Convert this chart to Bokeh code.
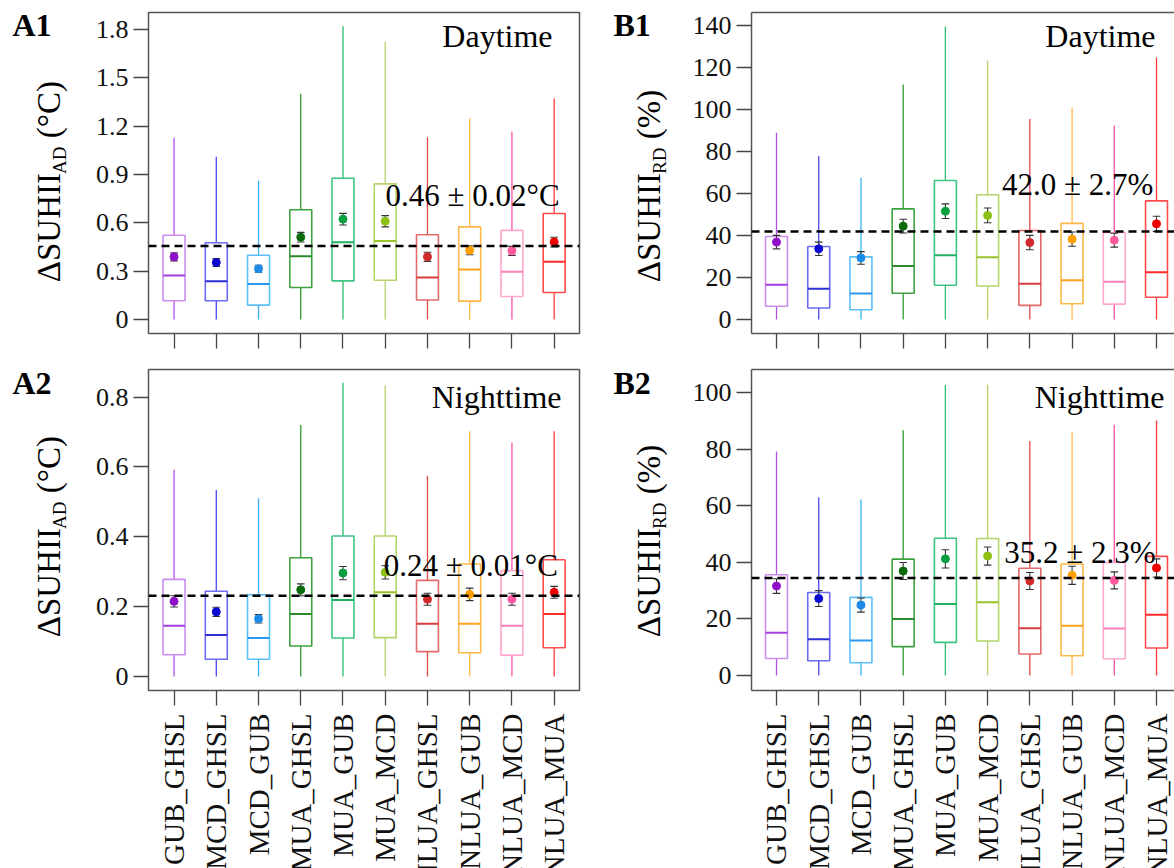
import math
import numpy as np
from bokeh.plotting import figure
from bokeh.models import (Range1d, FixedTicker, Span, Label, LabelSet,
                          ColumnDataSource, LinearAxis)
from bokeh.layouts import row, column
from bokeh.core.properties import value
from bokeh.embed import file_html
from bokeh.resources import INLINE

# ---------------- data ----------------
categories = ["GUB_GHSL", "MCD_GHSL", "MCD_GUB", "MUA_GHSL", "MUA_GUB",
              "MUA_MCD", "NLUA_GHSL", "NLUA_GUB", "NLUA_MCD", "NLUA_MUA"]

# A1: daytime absolute difference (°C)
a1_low = [0, 0, 0, 0, 0, 0, 0, 0, 0, 0]
a1_q1 = [0.116, 0.116, 0.089, 0.199, 0.240, 0.244, 0.121, 0.114, 0.143, 0.168]
a1_med = [0.273, 0.238, 0.221, 0.393, 0.480, 0.487, 0.261, 0.310, 0.296, 0.358]
a1_q3 = [0.523, 0.476, 0.399, 0.681, 0.877, 0.842, 0.526, 0.575, 0.553, 0.658]
a1_high = [1.128, 1.010, 0.861, 1.401, 1.821, 1.726, 1.131, 1.250, 1.167, 1.372]
a1_mean = [0.389, 0.354, 0.315, 0.511, 0.623, 0.610, 0.389, 0.430, 0.426, 0.481]
a1_err = [0.025, 0.025, 0.022, 0.030, 0.036, 0.035, 0.028, 0.028, 0.028, 0.030]

# A2: nighttime absolute difference (°C)
a2_low = [0, 0, 0, 0, 0, 0, 0, 0, 0, 0]
a2_q1 = [0.062, 0.049, 0.049, 0.087, 0.110, 0.111, 0.071, 0.068, 0.061, 0.082]
a2_med = [0.145, 0.119, 0.110, 0.179, 0.219, 0.241, 0.151, 0.151, 0.145, 0.179]
a2_q3 = [0.278, 0.244, 0.234, 0.340, 0.402, 0.402, 0.275, 0.322, 0.303, 0.334]
a2_high = [0.592, 0.534, 0.510, 0.720, 0.841, 0.834, 0.575, 0.702, 0.669, 0.702]
a2_mean = [0.215, 0.185, 0.165, 0.248, 0.296, 0.298, 0.221, 0.235, 0.221, 0.241]
a2_err = [0.016, 0.013, 0.012, 0.017, 0.019, 0.019, 0.017, 0.018, 0.017, 0.017]

# B1: daytime relative difference (%)
b1_low = [0, 0, 0, 0, 0, 0, 0, 0, 0, 0]
b1_q1 = [6.3, 5.5, 4.6, 12.5, 16.3, 15.9, 6.7, 7.5, 7.3, 10.6]
b1_med = [16.5, 14.6, 12.4, 25.4, 30.6, 29.6, 17.0, 18.7, 17.9, 22.5]
b1_q3 = [39.5, 34.7, 29.8, 52.6, 66.1, 59.3, 42.3, 45.7, 41.4, 56.4]
b1_high = [88.8, 77.7, 67.4, 111.8, 139.4, 123.2, 95.3, 100.8, 92.3, 124.6]
b1_mean = [36.8, 33.6, 29.3, 44.4, 51.5, 49.5, 36.6, 38.2, 37.7, 45.5]
b1_err = [3.2, 3.2, 3.0, 3.3, 3.5, 3.5, 3.4, 3.4, 3.3, 3.6]

# B2: nighttime relative difference (%)
b2_low = [0, 0, 0, 0, 0, 0, 0, 0, 0, 0]
b2_q1 = [6.0, 5.2, 4.5, 10.2, 11.7, 12.2, 7.6, 7.0, 5.9, 9.7]
b2_med = [15.1, 12.8, 12.4, 20.0, 25.3, 25.9, 16.7, 17.6, 16.6, 21.5]
b2_q3 = [35.6, 29.3, 27.6, 41.1, 48.5, 48.4, 37.9, 39.4, 39.9, 42.1]
b2_high = [79.1, 63.0, 62.2, 86.6, 102.6, 102.7, 82.8, 86.0, 88.6, 90.1]
b2_mean = [31.6, 27.2, 24.9, 36.9, 41.2, 42.2, 33.4, 35.4, 33.6, 38.0]
b2_err = [2.6, 2.8, 2.5, 3.0, 3.2, 3.2, 3.0, 3.2, 3.0, 3.2]

overall_mean = {"A1": 0.457, "A2": 0.231, "B1": 41.9, "B2": 34.4}
overall_text = {"A1": "0.46 \u00b1 0.02\u00b0C", "A2": "0.24 \u00b1 0.01\u00b0C",
                "B1": "42.0 \u00b1 2.7%", "B2": "35.2 \u00b1 2.3%"}

a1_yticks = [0, 0.3, 0.6, 0.9, 1.2, 1.5, 1.8]
a1_ylabels = ["0", "0.3", "0.6", "0.9", "1.2", "1.5", "1.8"]
a2_yticks = [0, 0.2, 0.4, 0.6, 0.8]
a2_ylabels = ["0", "0.2", "0.4", "0.6", "0.8"]
b1_yticks = [0, 20, 40, 60, 80, 100, 120, 140]
b1_ylabels = ["0", "20", "40", "60", "80", "100", "120", "140"]
b2_yticks = [0, 20, 40, 60, 80, 100]
b2_ylabels = ["0", "20", "40", "60", "80", "100"]

# ---------------- styles ----------------
whisker_colors = ["#b350e8", "#4848ee", "#3ab2f6", "#2f9a2f", "#2dbd6e",
                  "#b4d26a", "#e04848", "#ffbc4a", "#ff50a8", "#ff3a3a"]
box_colors = ["#c98ef0", "#6b6bf2", "#5cc0f8", "#3fa03f", "#3cc483",
              "#b5d46a", "#e46a6a", "#ffb84a", "#ffa6cf", "#ff4d4d"]
median_colors = ["#a43ee0", "#2f2fd8", "#2a98f0", "#2a8a2a", "#22b062",
                 "#98c42a", "#d83c3c", "#ffa21c", "#ff7fb8", "#ff2a2a"]
dot_colors = ["#9010c8", "#0a0ad0", "#1c8ae8", "#0a6a0a", "#0aa040",
              "#8cc014", "#d02a2a", "#ffa000", "#ff5aa0", "#ee0000"]

SERIF = "Liberation Serif"
FRAME_COLOR = "#555555"
BOX_W = 0.52
CAP_W = 0.09
FRAME_H = 321
ROT = math.pi / 2
BASE_SHIFT = 0.335   # label anchor offset (em) so glyph baselines land where wanted


def blank(width, height, x_range=None, mb=(0, 0, 0, 0)):
    p = figure(width=width, height=height, output_backend="svg", toolbar_location=None,
               x_range=x_range if x_range is not None else Range1d(0, width),
               y_range=Range1d(0, height), x_axis_location=None, y_axis_location=None,
               min_border_left=mb[0], min_border_right=mb[1],
               min_border_top=mb[2], min_border_bottom=mb[3])
    p.xgrid.visible = False
    p.ygrid.visible = False
    p.outline_line_color = None
    p.background_fill_color = "white"
    p.border_fill_color = "white"
    return p


def side_strip(width, height, mb, tag, tag_x, tag_base, ylab_base_x, ylab_start,
               ylab_main, ylab_sub, ylab_rest):
    """Strip left of a panel with the panel tag and the rotated y-axis title."""
    p = blank(width, height, mb=mb)
    fb = height - mb[3]
    tag_fs, main_fs, sub_fs = 32, 33, 19
    p.add_layout(Label(x=tag_x, y=fb - tag_base + BASE_SHIFT * tag_fs,
                       x_units="screen", y_units="screen", text=tag, text_font=SERIF,
                       text_font_style="bold", text_font_size=f"{tag_fs}px",
                       text_color="black", text_align="left", text_baseline="alphabetic"))
    y0 = fb - ylab_start
    main_w = 3.279 * main_fs
    sub_w = {"AD": 1.444, "RD": 1.389}[ylab_sub] * sub_fs
    xm = ylab_base_x - BASE_SHIFT * main_fs
    xs = ylab_base_x + 6 - BASE_SHIFT * sub_fs
    p.add_layout(Label(x=xm, y=y0, x_units="screen", y_units="screen", text=ylab_main,
                       angle=ROT, text_font=SERIF, text_font_size=f"{main_fs}px",
                       text_color="black", text_align="left", text_baseline="alphabetic"))
    p.add_layout(Label(x=xs, y=y0 + main_w, x_units="screen", y_units="screen",
                       text=ylab_sub, angle=ROT, text_font=SERIF,
                       text_font_size=f"{sub_fs}px", text_color="black",
                       text_align="left", text_baseline="alphabetic"))
    p.add_layout(Label(x=xm, y=y0 + main_w + sub_w + 0.25 * main_fs, x_units="screen",
                       y_units="screen", text=ylab_rest, angle=ROT, text_font=SERIF,
                       text_font_size=f"{main_fs}px", text_color="black",
                       text_align="left", text_baseline="alphabetic"))
    return p


def panel(key, width, height, mb, xr, yr, yticks, ylabels, low, q1, med, q3, high,
          mean, err, period, period_x, period_y, stat_xy, truncated):
    p = figure(width=width, height=height, output_backend="svg", toolbar_location=None,
               x_range=xr, y_range=Range1d(*yr),
               min_border_left=mb[0], min_border_right=mb[1],
               min_border_top=mb[2], min_border_bottom=mb[3])
    p.xgrid.visible = False
    p.ygrid.visible = False
    p.background_fill_color = "white"
    p.border_fill_color = "white"
    if truncated:
        p.outline_line_color = None
    else:
        p.outline_line_color = FRAME_COLOR
        p.outline_line_width = 1.5

    yax = p.yaxis[0]
    yax.ticker = FixedTicker(ticks=yticks)
    yax.major_label_overrides = {t: s for t, s in zip(yticks, ylabels)}
    yax.major_label_text_font = SERIF
    yax.major_label_text_font_size = "26px"
    yax.major_label_text_color = "#111111"
    yax.major_label_standoff = 5
    yax.major_tick_out = 15
    yax.major_tick_in = 0
    yax.minor_tick_out = 0
    yax.minor_tick_in = 0
    yax.major_tick_line_color = "#444444"
    yax.major_tick_line_width = 1.3
    yax.axis_line_color = FRAME_COLOR if truncated else None
    yax.axis_line_width = 1.5

    xax = p.xaxis[0]
    xax.ticker = FixedTicker(ticks=list(range(len(categories))))
    xax.major_label_text_color = None
    xax.major_label_text_font_size = "1px"
    xax.major_label_standoff = 0
    xax.major_tick_out = 15
    xax.major_tick_in = 0
    xax.minor_tick_out = 0
    xax.minor_tick_in = 0
    xax.major_tick_line_color = "#444444"
    xax.major_tick_line_width = 1.3
    xax.axis_line_color = FRAME_COLOR if truncated else None
    xax.axis_line_width = 1.5

    if truncated:
        top = LinearAxis(ticker=FixedTicker(ticks=[]), major_label_text_font_size="1px",
                         major_label_text_color=None,
                         major_label_standoff=0, major_tick_out=0, major_tick_in=0,
                         minor_tick_out=0, minor_tick_in=0,
                         axis_line_color=FRAME_COLOR, axis_line_width=1.5)
        p.add_layout(top, "above")

    x = np.arange(len(categories), dtype=float)
    src = ColumnDataSource(dict(
        x=x, x0=x - BOX_W / 2, x1=x + BOX_W / 2, c0=x - CAP_W, c1=x + CAP_W,
        low=low, q1=q1, med=med, q3=q3, high=high, mean=mean,
        lo=np.array(mean) - np.array(err), hi=np.array(mean) + np.array(err),
        wc=whisker_colors, bc=box_colors, mc=median_colors, dc=dot_colors))

    p.segment(x0="x", x1="x", y0="low", y1="q1", line_color="wc", line_width=1.3, source=src)
    p.segment(x0="x", x1="x", y0="q3", y1="high", line_color="wc", line_width=1.3, source=src)
    p.vbar(x="x", width=BOX_W, bottom="q1", top="q3", fill_color=None,
           line_color="bc", line_width=1.6, source=src)
    p.segment(x0="x0", x1="x1", y0="med", y1="med", line_color="mc", line_width=2.0, source=src)
    p.segment(x0="x", x1="x", y0="lo", y1="hi", line_color="#333333", line_width=1.1, source=src)
    p.segment(x0="c0", x1="c1", y0="lo", y1="lo", line_color="#333333", line_width=1.1, source=src)
    p.segment(x0="c0", x1="c1", y0="hi", y1="hi", line_color="#333333", line_width=1.1, source=src)
    p.scatter(x="x", y="mean", size=8, fill_color="dc", line_color="dc", source=src)

    p.add_layout(Span(location=overall_mean[key], dimension="width", line_color="black",
                      line_dash="8 5", line_width=2.5))

    p.add_layout(Label(x=period_x, y=FRAME_H - period_y + BASE_SHIFT * 32,
                       x_units="screen", y_units="screen",
                       text=period, text_font=SERIF, text_font_size="32px",
                       text_color="black", text_align="right", text_baseline="alphabetic"))
    p.add_layout(Label(x=stat_xy[0], y=stat_xy[1] + BASE_SHIFT * 31,
                       x_units="screen", y_units="screen",
                       text=overall_text[key], text_font=SERIF, text_font_size="31px",
                       text_color="black", text_align="left", text_baseline="alphabetic"))
    return p


def category_strip(width, height, x_range, mb_left, mb_right):
    p = blank(width, height, x_range=x_range, mb=(mb_left, mb_right, 0, 0))
    x = np.arange(len(categories), dtype=float)
    lsrc = ColumnDataSource(dict(x=x, y=[height - 1] * len(categories), t=categories))
    p.add_layout(LabelSet(x="x", y="y", text="t", source=lsrc, x_units="data",
                          y_units="screen", angle=ROT,
                          text_font=value(SERIF), text_font_size=value("29px"),
                          text_color="#111111", text_align="right",
                          text_baseline="middle"))
    return p


# ---------------- layout ----------------
STRIP_A, STRIP_B = 70, 72
A_W, B_W = 530, 502
R1_H, R2_TOTAL = 350, 518
R2_MAIN = 362
R2_LAB = R2_TOTAL - R2_MAIN
A_XR1, A_XR2 = Range1d(-0.605, 9.6), Range1d(-0.605, 9.6)
B_XR1, B_XR2 = Range1d(-0.592, 9.426), Range1d(-0.592, 9.426)

R1_MB = (0, 0, 12, 17)
R2_MB = (0, 0, 0, 0)
sA1 = side_strip(STRIP_A, R1_H, R1_MB, "A1", 12, 35, 59.3, 281.7,
                 "\u0394SUHII", "AD", "(\u00b0C)")
sB1 = side_strip(STRIP_B, R1_H, R1_MB, "B1", 13, 35, 59.5, 281.7,
                 "\u0394SUHII", "RD", "(%)")
sA2 = side_strip(STRIP_A, R2_TOTAL, R2_MB, "A2", 12, 43.3, 59.3, 286.7,
                 "\u0394SUHII", "AD", "(\u00b0C)")
sB2 = side_strip(STRIP_B, R2_TOTAL, R2_MB, "B2", 13, 43.3, 59.5, 286.7,
                 "\u0394SUHII", "RD", "(%)")

pA1 = panel("A1", A_W, R1_H, (78, 21, 12, 17), A_XR1, (-0.087, 1.906), a1_yticks, a1_ylabels,
            a1_low, a1_q1, a1_med, a1_q3, a1_high, a1_mean, a1_err,
            "Daytime", 404, 34, (237, 127.6), False)
pB1 = panel("B1", B_W, R1_H, (79, 0, 12, 17), B_XR1, (-6.66, 146.0), b1_yticks, b1_ylabels,
            b1_low, b1_q1, b1_med, b1_q3, b1_high, b1_mean, b1_err,
            "Daytime", 404, 34, (250.6, 138.3), True)
pA2 = panel("A2", A_W, R2_MAIN, (78, 21, 19, 22), A_XR2, (-0.0403, 0.879), a2_yticks, a2_ylabels,
            a2_low, a2_q1, a2_med, a2_q3, a2_high, a2_mean, a2_err,
            "Nighttime", 413, 38, (235.3, 114.7), False)
pB2 = panel("B2", B_W, R2_MAIN, (79, 0, 19, 22), B_XR2, (-5.3, 108.1), b2_yticks, b2_ylabels,
            b2_low, b2_q1, b2_med, b2_q3, b2_high, b2_mean, b2_err,
            "Nighttime", 413, 38, (252.7, 127.2), True)

cA2 = category_strip(A_W, R2_LAB, A_XR2, 78, 21)
cB2 = category_strip(B_W, R2_LAB, B_XR2, 79, 0)

layout = column(
    row(sA1, pA1, sB1, pB1),
    row(sA2, column(pA2, cA2), sB2, column(pB2, cB2)),
)
open("out.html", "w").write(file_html(layout, INLINE))
